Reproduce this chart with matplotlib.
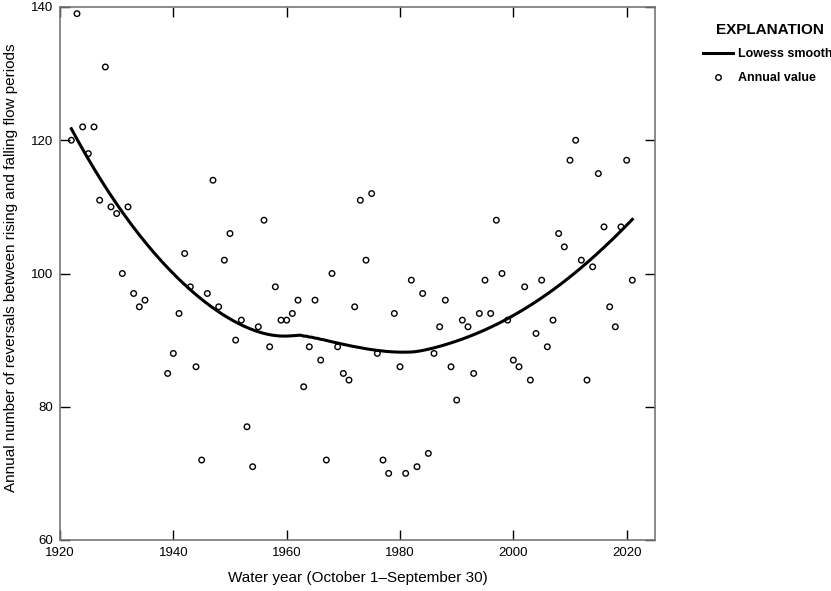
import numpy as np
import matplotlib
matplotlib.use("Agg")
import matplotlib.pyplot as plt
from matplotlib.lines import Line2D

plt.rcParams['font.family'] = ['Liberation Sans', 'DejaVu Sans']

years = [1922, 1923, 1924, 1925, 1926, 1927, 1928, 1929, 1930, 1931,
         1932, 1933, 1934, 1935, 1939, 1940, 1941, 1942, 1943, 1944,
         1945, 1946, 1947, 1948, 1949, 1950, 1951, 1952, 1953, 1954,
         1955, 1956, 1957, 1958, 1959, 1960, 1961, 1962, 1963, 1964,
         1965, 1966, 1967, 1968, 1969, 1970, 1971, 1972, 1973, 1974,
         1975, 1976, 1977, 1978, 1979, 1980, 1981, 1982, 1983, 1984,
         1985, 1986, 1987, 1988, 1989, 1990, 1991, 1992, 1993, 1994,
         1995, 1996, 1997, 1998, 1999, 2000, 2001, 2002, 2003, 2004,
         2005, 2006, 2007, 2008, 2009, 2010, 2011, 2012, 2013, 2014,
         2015, 2016, 2017, 2018, 2019, 2020, 2021]
reversals = [120, 139, 122, 118, 122, 111, 131, 110, 109, 100,
             110, 97, 95, 96, 85, 88, 94, 103, 98, 86,
             72, 97, 114, 95, 102, 106, 90, 93, 77, 71,
             92, 108, 89, 98, 93, 93, 94, 96, 83, 89,
             96, 87, 72, 100, 89, 85, 84, 95, 111, 102,
             112, 88, 72, 70, 94, 86, 70, 99, 71, 97,
             73, 88, 92, 96, 86, 81, 93, 92, 85, 94,
             99, 94, 108, 100, 93, 87, 86, 98, 84, 91,
             99, 89, 93, 106, 104, 117, 120, 102, 84, 101,
             115, 107, 95, 92, 107, 117, 99]

x_ticks = [1920, 1940, 1960, 1980, 2000, 2020]
y_ticks = [60, 80, 100, 120, 140]


def loess(x, y, xs, span=0.75, degree=2):
    # local polynomial with tricube weights (like R loess defaults)
    x = np.asarray(x, float)
    y = np.asarray(y, float)
    q = int(np.floor(span * len(x)))
    out = []
    for x0 in xs:
        d = np.abs(x - x0)
        h = np.sort(d)[q - 1]
        u = np.clip(d / h, 0, 1)
        w = (1 - u ** 3) ** 3
        A = np.vstack([(x - x0) ** k for k in range(degree + 1)]).T
        AW = A.T * w
        beta = np.linalg.solve(AW @ A, AW @ y)
        out.append(beta[0])
    return np.array(out)


grid = np.linspace(years[0], years[-1], 300)
smooth = loess(years, reversals, grid, span=0.82, degree=2)

fig = plt.figure(figsize=(8.31, 5.91), dpi=100)
ax = fig.add_axes([60 / 831, 1 - 540 / 591, 595 / 831, 533 / 591])

ax.plot(grid, smooth, color='black', lw=2.2, zorder=3)
ax.scatter(years, reversals, s=16, facecolors='none', edgecolors='black',
           linewidths=1.0, zorder=4)

ax.set_xlim(1920, 2025)
ax.set_ylim(60, 140)
ax.set_xticks(x_ticks)
ax.set_yticks(y_ticks)
ax.tick_params(direction='in', length=7, width=1, top=True, right=True,
               labelsize=9.5, pad=5)
for s in ax.spines.values():
    s.set_color('#777777')
    s.set_linewidth(1.2)

ax.set_xlabel('Water year (October 1\u2013September 30)', fontsize=11, labelpad=9)
fig.text(11 / 831, 1 - 268 / 591,
         'Annual number of reversals between rising and falling flow periods',
         rotation=90, ha='center', va='center', fontsize=11)

fig.text(770 / 831, 1 - 30 / 591, 'EXPLANATION', ha='center', va='center',
         fontsize=11, fontweight='bold')
handles = [Line2D([], [], color='black', lw=2.2),
           Line2D([], [], marker='o', ls='none', mfc='none', mec='black',
                  ms=4, mew=1.0)]
fig.legend(handles, ['Lowess smooth', 'Annual value'], loc='upper left',
           bbox_to_anchor=(697 / 831, 1 - 42 / 591), frameon=False,
           handlelength=2.4, handletextpad=0.35, labelspacing=0.95,
           borderpad=0, prop={'weight': 'bold', 'size': 9})

fig.savefig('out.png', dpi=100)
